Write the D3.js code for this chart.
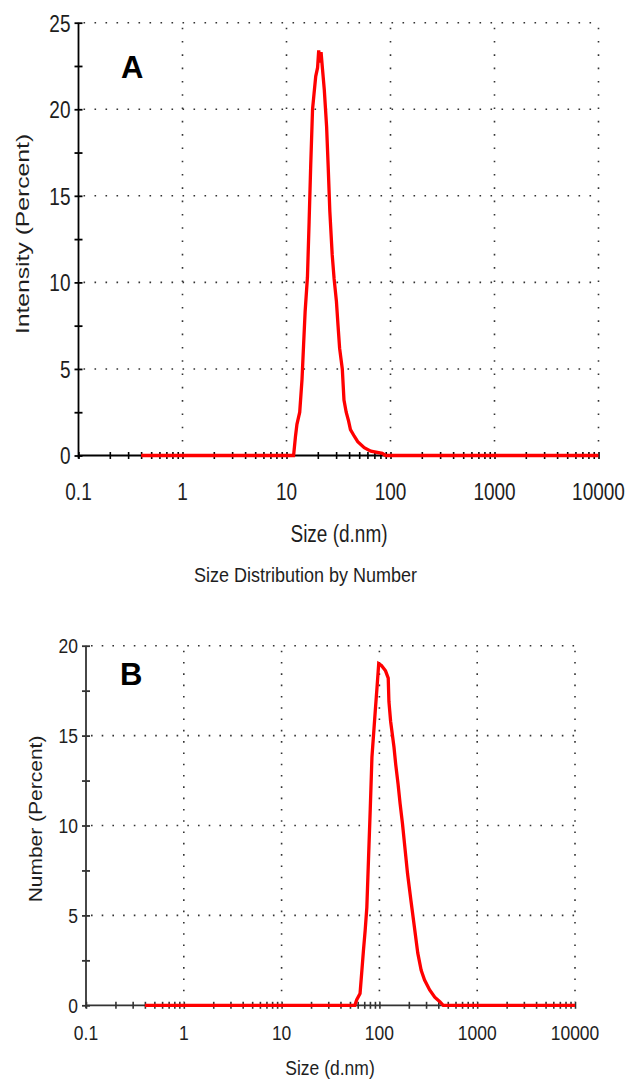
<!DOCTYPE html>
<html lang="en">
<head>
<meta charset="UTF-8" />
<title>Size Distribution</title>
<style>
  body { margin: 0; background: #fff; }
  svg { display: block; background: #fff; }
  text { font-family: "Liberation Sans", Arial, sans-serif; fill: #1e1e1e; }
</style>
</head>
<body>
<svg width="628" height="1083"></svg>
<script src="https://d3js.org/d3.v7.min.js"></script>
<script>
// size axis (d.nm), shared by both panels
var decadeTicks = [0.1, 1, 10, 100, 1000, 10000];
var decadeLabels = ["0.1", "1", "10", "100", "1000", "10000"];

// panel A - intensity distribution
var yTicksA = [0, 5, 10, 15, 20, 25];
var sizesA = [0.4, 11.7, 12.2, 12.6, 13.4, 14.1, 14.6, 15.1, 15.9, 16.5, 17.1, 17.8, 18.4, 19.1, 19.9,
              20.4, 21.0, 21.5, 22.2, 23.1, 24.3, 25.2, 26.1, 27.5, 28.7, 30.2, 31.3, 32.4, 34.4, 35.7,
              37.5, 39.5, 41.2, 45.0, 48.4, 55.9, 64.7, 83.4, 89.7, 10000];
var valuesA = [0, 0, 1.1, 1.8, 2.5, 4.4, 6.4, 8.3, 10.3, 13.5, 16.8, 20.0, 20.9, 21.9, 22.4,
               23.4, 22.7, 23.3, 22.3, 21.1, 19.0, 16.6, 14.1, 11.6, 10.2, 8.9, 7.5, 6.2, 5.0, 3.2,
               2.5, 2.0, 1.5, 1.1, 0.8, 0.45, 0.25, 0.12, 0, 0];

// panel B - number distribution
var yTicksB = [0, 5, 10, 15, 20];
var sizesB = [0.4, 56.2, 58.5, 63.4, 66.0, 68.7, 71.5, 74.4, 77.4, 80.6, 83.9, 90.8, 94.6, 98.4,
              104.9, 115.5, 123.1, 125.1, 130.2, 141.0, 146.8, 155.2, 162.9, 172.2, 183.6, 194.2,
              210.4, 227.9, 246.9, 267.4, 289.7, 326.6, 368.1, 415.0, 449.6, 10000];
var valuesB = [0, 0, 0.3, 0.65, 1.85, 3.05, 4.15, 5.45, 8.15, 10.9, 13.8, 16.4, 17.7, 19.0,
               18.9, 18.6, 18.2, 16.9, 15.8, 14.35, 13.4, 12.3, 11.2, 10.1, 8.6, 7.3,
               5.8, 4.35, 2.9, 1.95, 1.4, 0.85, 0.45, 0.2, 0, 0];

var svg = d3.select("svg");

// the original image is stretched vertically, so text gets scale(1,k)
function label(g, x, y, str, o) {
    var t = "translate(" + x + "," + y + ") scale(1," + o.k + ")" + (o.rotate ? " rotate(-90)" : "");
    return g.append("text")
        .attr("transform", t)
        .attr("font-size", o.size + "px")
        .attr("font-weight", o.bold ? "bold" : null)
        .attr("text-anchor", o.anchor || "middle")
        .attr("dy", o.dy || null)
        .style("fill", o.bold ? "#000" : null)
        .text(str);
}

function drawPanel(p) {
    var x = d3.scaleLog().domain([0.1, 10000]).range([p.left, p.right]);
    var y = d3.scaleLinear().domain([0, p.yMax]).range([p.bottom, p.top]);
    var g = svg.append("g");

    // dotted grid
    g.append("g").selectAll("line")
        .data(p.yTicks.slice(1))
        .enter().append("line")
        .attr("x1", p.left + 5).attr("x2", p.right + 1)
        .attr("y1", function(d) { return y(d); })
        .attr("y2", function(d) { return y(d); })
        .attr("stroke", "#333")
        .attr("stroke-width", 1.6)
        .attr("stroke-dasharray", p.hDash);

    g.append("g").selectAll("line")
        .data(decadeTicks.slice(1))
        .enter().append("line")
        .attr("x1", function(d) { return x(d); })
        .attr("x2", function(d) { return x(d); })
        .attr("y1", p.top + 5).attr("y2", p.bottom - 4)
        .attr("stroke", "#333")
        .attr("stroke-width", 1.6)
        .attr("stroke-dasharray", p.vDash);

    // x axis: line + log ticks crossing it
    g.append("line")
        .attr("x1", p.left).attr("x2", p.right)
        .attr("y1", p.bottom).attr("y2", p.bottom)
        .attr("stroke", p.axisColor).attr("stroke-width", 1.8);
    g.append("g")
        .attr("transform", "translate(0," + (p.bottom - 3.5) + ")")
        .call(d3.axisBottom(x).tickValues(x.ticks()).tickSize(7).tickFormat(""))
        .call(function(a) {
            a.select(".domain").remove();
            a.selectAll(".tick line").attr("stroke", p.axisColor).attr("stroke-width", 1.6);
        });

    // y axis: line + major/minor ticks
    g.append("line")
        .attr("x1", p.left).attr("x2", p.left)
        .attr("y1", p.bottom + 3).attr("y2", p.top)
        .attr("stroke", p.axisColor).attr("stroke-width", 1.8);
    g.append("g")
        .attr("transform", "translate(" + (p.left + 4) + ",0)")
        .call(d3.axisLeft(y).tickValues(d3.range(0, p.yMax + 0.1, 2.5)).tickSize(8).tickFormat(""))
        .call(function(a) {
            a.select(".domain").remove();
            a.selectAll(".tick line").attr("stroke", p.axisColor).attr("stroke-width", 1.8);
        });

    // tick labels
    decadeTicks.forEach(function(d, i) {
        label(g, x(d), p.xLabelY, decadeLabels[i], { size: p.font, k: p.k });
    });
    p.yTicks.forEach(function(d) {
        label(g, p.left - 8, y(d), d, { size: p.font, k: p.k, anchor: "end", dy: "0.36em" });
    });

    // axis titles
    label(g, p.xTitleX, p.xTitleY, "Size (d.nm)", { size: p.font, k: p.k });
    label(g, p.yTitleX, p.yTitleY, p.yTitle, { size: p.font, k: p.k, rotate: true });

    // panel letter
    label(g, p.letterX, p.letterY, p.letter, { size: 31, k: 1, bold: true, anchor: "start" });

    // distribution curve
    var line = d3.line()
        .x(function(d) { return x(d[0]); })
        .y(function(d) { return y(d[1]); });

    g.append("path")
        .datum(d3.zip(p.sizes, p.values))
        .attr("fill", "none")
        .attr("stroke", "#ff0000")
        .attr("stroke-width", 3.3)
        .attr("d", line);
}

drawPanel({
    left: 78.5, right: 598.5, top: 22.7, bottom: 455.5,
    yMax: 25, yTicks: yTicksA, sizes: sizesA, values: valuesA,
    hDash: "1.6,9.4", vDash: "1.6,11.7", axisColor: "#000",
    font: 19, k: 1.3, xLabelY: 500,
    xTitleX: 339, xTitleY: 541.5,
    yTitle: "Intensity (Percent)", yTitleX: 28.5, yTitleY: 234,
    letter: "A", letterX: 121, letterY: 78
});

drawPanel({
    left: 86, right: 575, top: 645.7, bottom: 1005.3,
    yMax: 20, yTicks: yTicksB, sizes: sizesB, values: valuesB,
    hDash: "1.6,9.1", vDash: "1.6,9.7", axisColor: "#333",
    font: 17.5, k: 1.2, xLabelY: 1040,
    xTitleX: 330, xTitleY: 1075,
    yTitle: "Number (Percent)", yTitleX: 42, yTitleY: 819,
    letter: "B", letterX: 120, letterY: 685
});

// caption between the two panels
svg.append("text")
    .attr("transform", "translate(305.5,581.5) scale(1,1.15)")
    .attr("font-size", "18px")
    .attr("text-anchor", "middle")
    .text("Size Distribution by Number");
</script>
</body>
</html>
